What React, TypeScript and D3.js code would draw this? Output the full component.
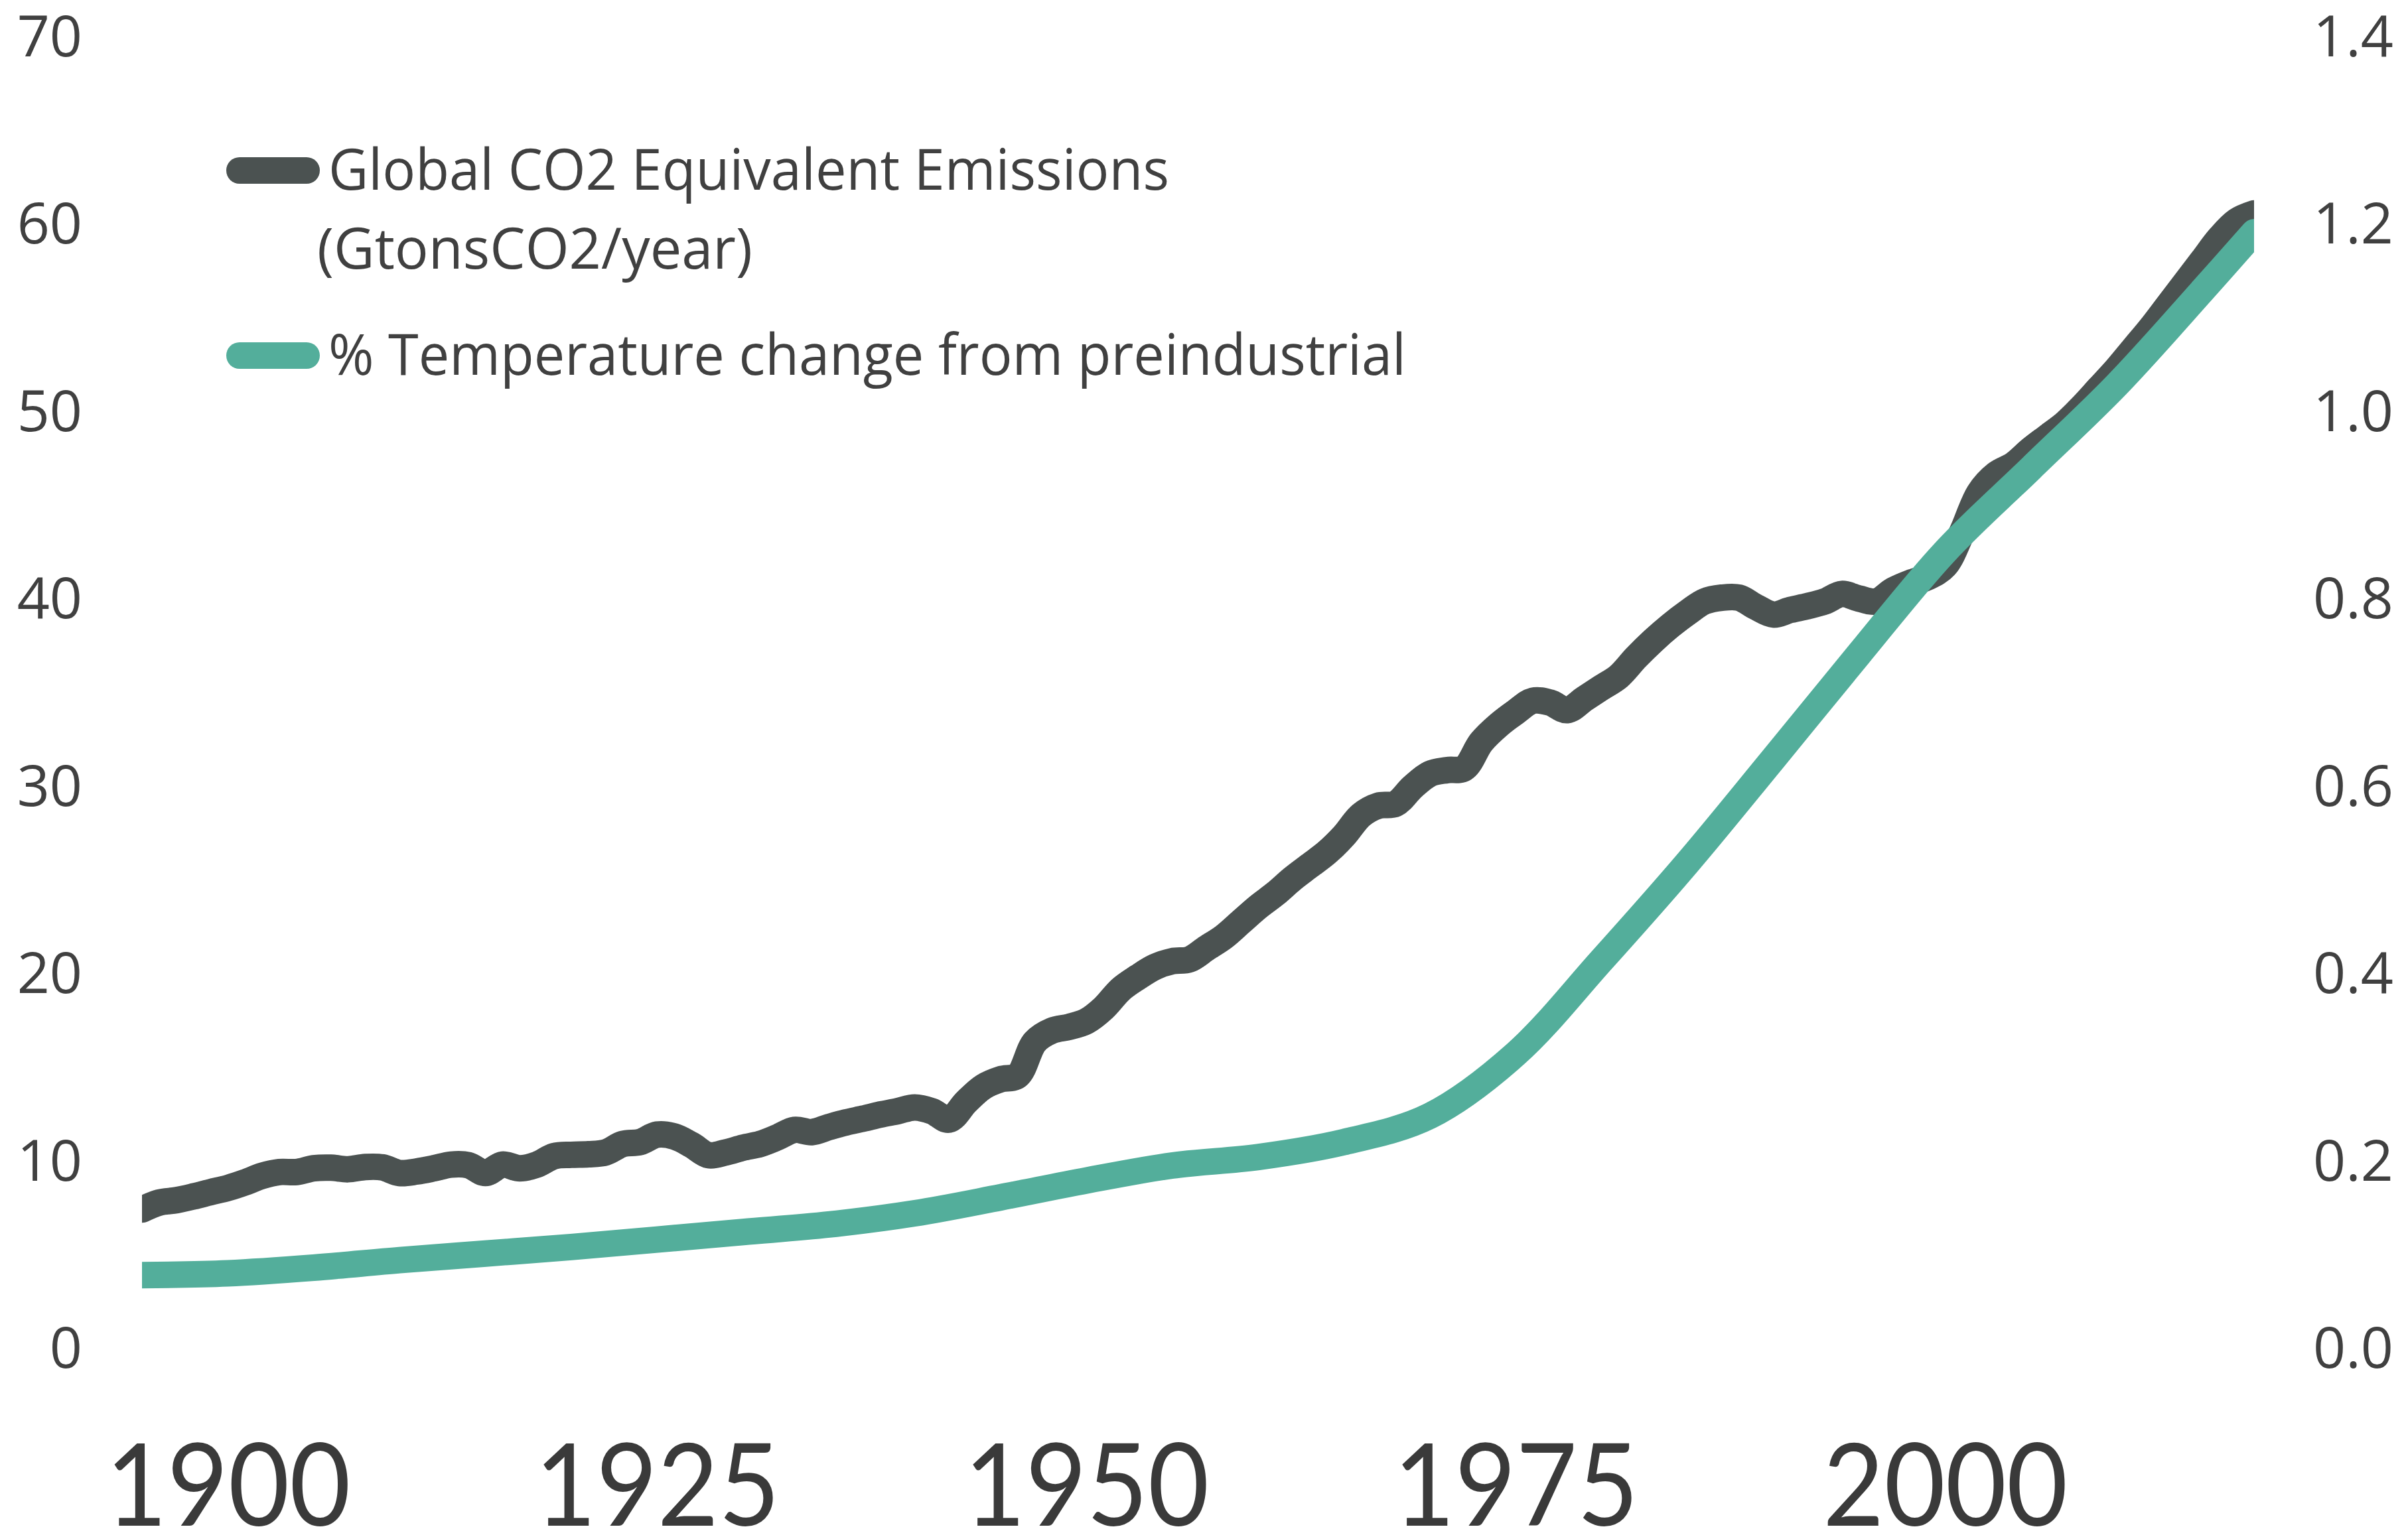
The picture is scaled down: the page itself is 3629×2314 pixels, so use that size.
import * as d3 from "d3";
import React, { useEffect, useRef } from "react";

// emissions, GtonsCO2/year, one value per year starting 1895
const startYear = 1895;
const emissions = [
  7.35, 7.72, 7.85, 8.05, 8.28,
  8.5, 8.8, 9.15, 9.35, 9.35, 9.55, 9.58, 9.5, 9.62, 9.6,
  9.3, 9.38, 9.55, 9.75, 9.72, 9.3, 9.75, 9.55, 9.75, 10.2,
  10.27, 10.3, 10.4, 10.85, 10.95, 11.35, 11.25, 10.8, 10.25, 10.4,
  10.65, 10.85, 11.2, 11.6, 11.48, 11.75, 12.0, 12.2, 12.42, 12.6,
  12.8, 12.6, 12.15, 13.1, 13.9, 14.3, 14.5, 16.3, 16.9, 17.1,
  17.4, 18.1, 19.1, 19.75, 20.3, 20.6, 20.7, 21.3, 21.9, 22.7,
  23.5, 24.2, 25.0, 25.7, 26.4, 27.3, 28.4, 28.9, 29.0, 29.9,
  30.6, 30.8, 30.9, 32.3, 33.2, 33.9, 34.5, 34.4, 34.0, 34.6,
  35.2, 35.8, 36.8, 37.7, 38.5, 39.2, 39.8, 40.0, 40.0, 39.5,
  39.1, 39.35, 39.55, 39.8, 40.2, 39.95, 39.8, 40.4, 40.8, 41.1,
  41.7, 43.5, 45.6, 46.6, 47.1, 47.9, 48.6, 49.3, 50.2, 51.2,
  52.2, 53.3, 54.4, 55.6, 56.8, 58.0, 59.2, 60.1, 60.5,
];
const years = emissions.map((_, i) => startYear + i);

// temperature change, read every 5 years
const tempYears = [
  1895, 1900, 1905, 1910, 1915, 1920, 1925, 1930, 1935, 1940, 1945, 1950, 1955,
  1960, 1965, 1970, 1975, 1980, 1985, 1990, 1995, 2000, 2005, 2010, 2015, 2018,
];
const tempChange = [
  0.077, 0.079, 0.085, 0.093, 0.1, 0.107, 0.115, 0.123, 0.131, 0.143, 0.16, 0.178, 0.194,
  0.203, 0.219, 0.247, 0.313, 0.413, 0.517, 0.628, 0.74, 0.849, 0.938, 1.027, 1.128, 1.19,
];

const leftTicks = [0, 10, 20, 30, 40, 50, 60, 70];
const rightTicks = [0, 0.2, 0.4, 0.6, 0.8, 1.0, 1.2, 1.4];
const yearTicks = [1900, 1925, 1950, 1975, 2000];

const emissionsLabel = ["Global CO2 Equivalent Emissions", "(GtonsCO2/year)"];
const tempLabel = ["% Temperature change from preindustrial"];

const W = 3629;
const H = 2314;
const GRAY = "#4b5251";
const TEAL = "#53ae9b";
const TEXT = "#404040";
const FONT = "'Open Sans', sans-serif";

function drawChart(node: SVGSVGElement) {
  const svg = d3.select(node);
  svg.selectAll("*").remove();

  svg.append("rect").attr("width", W).attr("height", H).attr("fill", "#fff");

  // plot area (lines run edge to edge and get clipped there)
  const x = d3.scaleLinear().domain([1895, 2018]).range([214, 3397]);
  const yLeft = d3.scaleLinear().domain([0, 70]).range([2031, 53.5]);
  const yRight = d3.scaleLinear().domain([0, 1.4]).range([2031, 53.5]);

  svg
    .append("clipPath")
    .attr("id", "plot-clip")
    .append("rect")
    .attr("x", x.range()[0])
    .attr("y", 0)
    .attr("width", x.range()[1] - x.range()[0])
    .attr("height", H);

  // left axis
  svg
    .append("g")
    .attr("transform", "translate(124,0)")
    .call(d3.axisLeft(yLeft).tickValues(leftTicks).tickSize(0).tickPadding(0))
    .call(g => g.select(".domain").remove())
    .selectAll("text")
    .attr("font-family", FONT)
    .attr("font-size", 86)
    .attr("fill", TEXT)
    .attr("dy", "0.36em");

  // right axis
  svg
    .append("g")
    .attr("transform", "translate(3486,0)")
    .call(d3.axisRight(yRight).tickValues(rightTicks).tickFormat(d3.format(".1f")).tickSize(0).tickPadding(0))
    .call(g => g.select(".domain").remove())
    .selectAll("text")
    .attr("font-family", FONT)
    .attr("font-size", 86)
    .attr("fill", TEXT)
    .attr("dy", "0.36em");

  // big year labels
  svg
    .append("g")
    .attr("transform", "translate(0,2300)")
    .call(d3.axisBottom(x).tickValues(yearTicks).tickFormat(d3.format("d")).tickSize(0))
    .call(g => g.select(".domain").remove())
    .selectAll("text")
    .attr("y", 0)
    .attr("dy", 0)
    .attr("font-family", "Lato, sans-serif")
    .attr("font-size", 172)
    .attr("textLength", 369)
    .attr("lengthAdjust", "spacingAndGlyphs")
    .attr("fill", "#3a3a3a");

  const plot = svg.append("g").attr("clip-path", "url(#plot-clip)");

  const emissionsLine = d3
    .line<number>()
    .x((d, i) => x(years[i]))
    .y(d => yLeft(d))
    .curve(d3.curveCatmullRom);

  const tempLine = d3
    .line<number>()
    .x((d, i) => x(tempYears[i]))
    .y(d => yRight(d))
    .curve(d3.curveCatmullRom);

  plot
    .append("path")
    .attr("d", emissionsLine(emissions))
    .attr("fill", "none")
    .attr("stroke", GRAY)
    .attr("stroke-width", 40)
    .attr("stroke-linecap", "round")
    .attr("stroke-linejoin", "round");

  plot
    .append("path")
    .attr("d", tempLine(tempChange))
    .attr("fill", "none")
    .attr("stroke", TEAL)
    .attr("stroke-width", 40)
    .attr("stroke-linecap", "round")
    .attr("stroke-linejoin", "round");

  // legend
  const legend = svg.append("g");
  const items = [
    { lines: emissionsLabel, color: GRAY, y: 257, widths: [1267, 656] },
    { lines: tempLabel, color: TEAL, y: 536, widths: [1624] },
  ];
  items.forEach(item => {
    legend
      .append("line")
      .attr("x1", 361)
      .attr("x2", 462)
      .attr("y1", item.y)
      .attr("y2", item.y)
      .attr("stroke", item.color)
      .attr("stroke-width", 40)
      .attr("stroke-linecap", "round");
    item.lines.forEach((t, i) => {
      legend
        .append("text")
        .attr("x", i === 0 ? 495 : 478)
        .attr("y", item.y + 29 + i * 119)
        .attr("font-family", FONT)
        .attr("font-size", 86)
        .attr("fill", TEXT)
        .attr("textLength", item.widths[i])
        .attr("lengthAdjust", "spacingAndGlyphs")
        .text(t);
    });
  });
}

export default function App() {
  const svgRef = useRef<SVGSVGElement>(null);

  useEffect(() => {
    if (svgRef.current) drawChart(svgRef.current);
  }, []);

  return (
    <svg
      ref={svgRef}
      width={W}
      height={H}
      style={{ position: "absolute", left: 0, top: 0, display: "block" }}
    />
  );
}
